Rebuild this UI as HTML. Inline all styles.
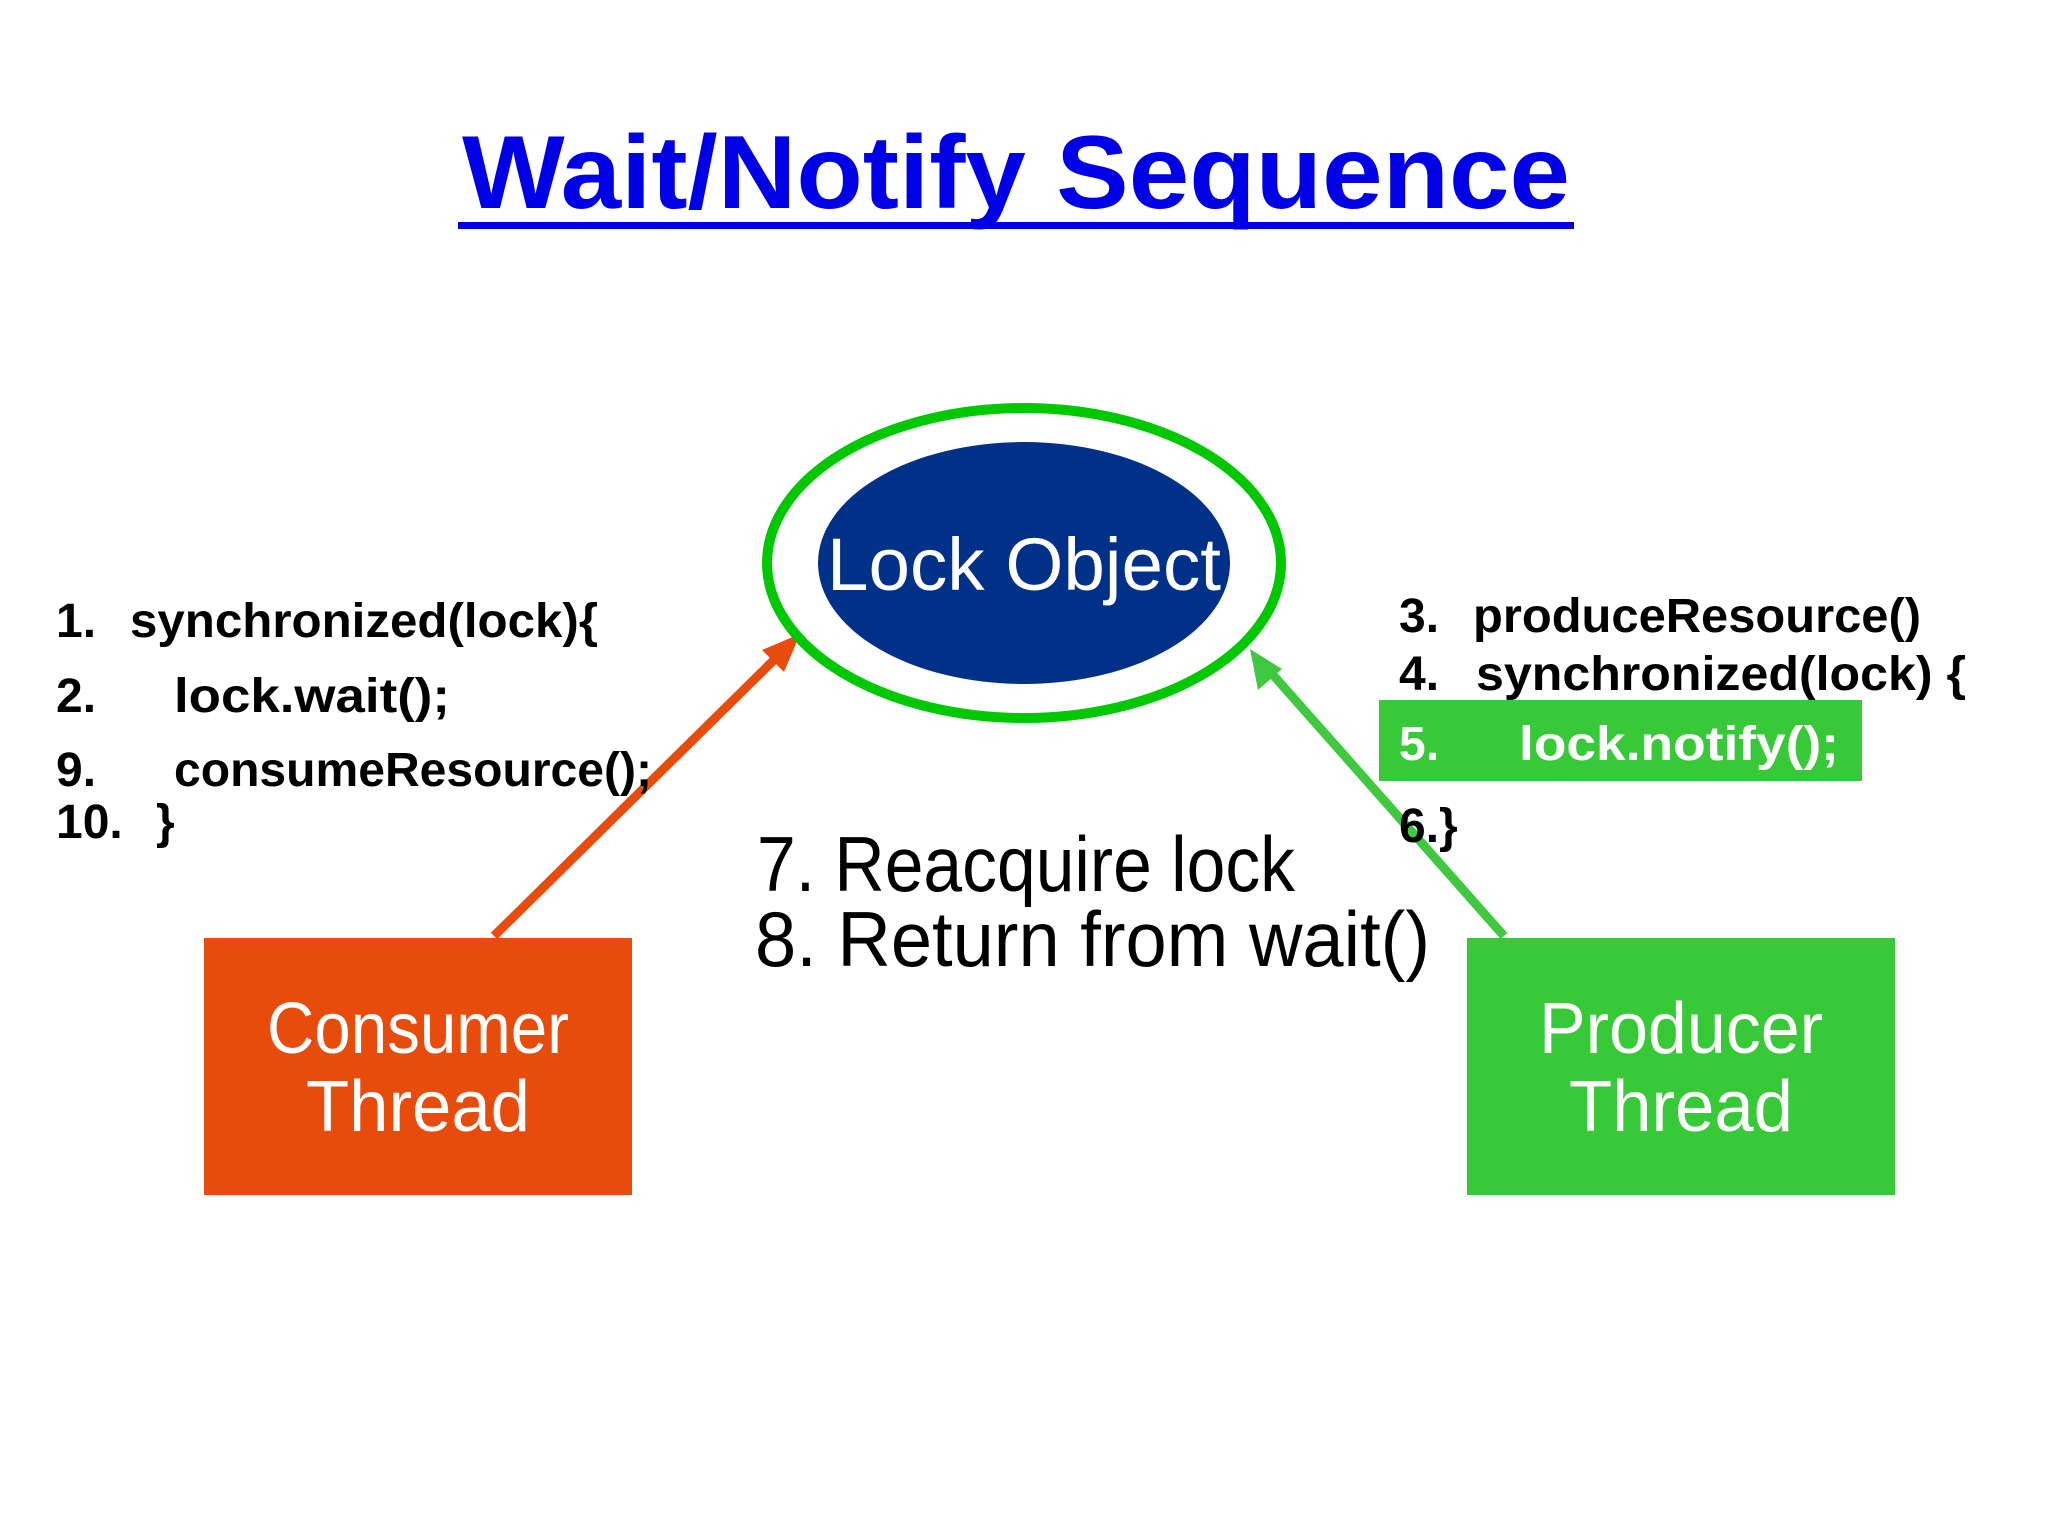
<!DOCTYPE html>
<html><head><meta charset="utf-8"><style>
html,body{margin:0;padding:0;background:#fff;width:2048px;height:1536px;overflow:hidden}
svg{display:block}
text{font-family:"Liberation Sans",sans-serif}
</style></head><body>
<svg width="2048" height="1536" viewBox="0 0 2048 1536" xmlns="http://www.w3.org/2000/svg">
<rect width="2048" height="1536" fill="#fff"/>
<text x="462" y="208" font-size="104" font-weight="bold" fill="#0000e6" textLength="1108" lengthAdjust="spacingAndGlyphs">Wait/Notify Sequence</text>
<rect x="458" y="222" width="1116" height="7" fill="#0000e6"/>

<line x1="494" y1="936" x2="780" y2="654" stroke="#e84c0d" stroke-width="9"/>
<polygon points="800,634 762,650 784,672" fill="#e84c0d"/>
<line x1="1504" y1="936" x2="1266" y2="667" stroke="#40c840" stroke-width="9"/>
<polygon points="1250,649 1258,690 1282,669" fill="#40c840"/>

<ellipse cx="1024" cy="563" rx="257" ry="155" fill="#fff" stroke="#00c800" stroke-width="10"/>
<ellipse cx="1024" cy="563" rx="206" ry="121" fill="#003087"/>
<text x="827" y="590" font-size="74" fill="#fff" textLength="394" lengthAdjust="spacingAndGlyphs">Lock Object</text>

<g font-size="48" font-weight="bold" fill="#000">
<text x="56" y="637">1.</text><text x="130" y="637" textLength="468" lengthAdjust="spacingAndGlyphs">synchronized(lock){</text>
<text x="56" y="712">2.</text><text x="174" y="712" textLength="276" lengthAdjust="spacingAndGlyphs">lock.wait();</text>
<text x="56" y="786">9.</text><text x="174" y="786" textLength="478" lengthAdjust="spacingAndGlyphs">consumeResource();</text>
<text x="56" y="838">10.</text><text x="156" y="838">}</text>

<text x="1399" y="632">3.</text><text x="1473" y="632" textLength="448" lengthAdjust="spacingAndGlyphs">produceResource()</text>
<text x="1399" y="690">4.</text><text x="1476" y="690" textLength="490" lengthAdjust="spacingAndGlyphs">synchronized(lock) {</text>
</g>
<rect x="1379" y="700" width="483" height="81" fill="#38c938"/>
<g font-size="48" font-weight="bold" fill="#fff">
<text x="1399" y="760">5.</text><text x="1519" y="760" textLength="320" lengthAdjust="spacingAndGlyphs">lock.notify();</text>
</g>
<text x="1399" y="842" font-size="48" font-weight="bold" fill="#000">6.}</text>

<text x="757" y="891" font-size="78" fill="#000" textLength="538" lengthAdjust="spacingAndGlyphs">7. Reacquire lock</text>
<text x="755" y="966" font-size="78" fill="#000" textLength="675" lengthAdjust="spacingAndGlyphs">8. Return from wait()</text>

<rect x="204" y="938" width="428" height="257" fill="#e84c0d"/>
<text x="418" y="1053" font-size="72" fill="#fff" text-anchor="middle" textLength="302" lengthAdjust="spacingAndGlyphs">Consumer</text>
<text x="418" y="1131" font-size="72" fill="#fff" text-anchor="middle" textLength="224" lengthAdjust="spacingAndGlyphs">Thread</text>

<rect x="1467" y="938" width="428" height="257" fill="#38c938"/>
<text x="1681" y="1053" font-size="72" fill="#fff" text-anchor="middle" textLength="284" lengthAdjust="spacingAndGlyphs">Producer</text>
<text x="1681" y="1131" font-size="72" fill="#fff" text-anchor="middle" textLength="224" lengthAdjust="spacingAndGlyphs">Thread</text>
</svg>
</body></html>
